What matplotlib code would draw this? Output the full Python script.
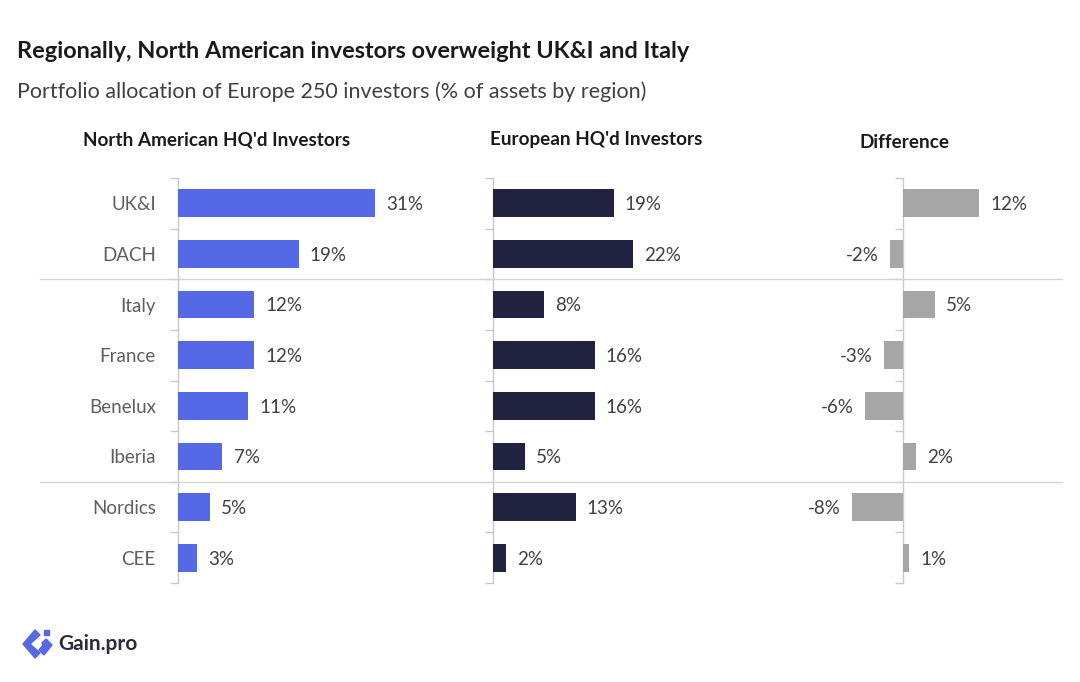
import matplotlib
matplotlib.use("Agg")
import matplotlib.pyplot as plt
from matplotlib.lines import Line2D
from matplotlib.patches import Polygon
import matplotlib.transforms as mtransforms

plt.rcParams['font.family'] = ['Lato', 'DejaVu Sans']

categories = ["UK&I", "DACH", "Italy", "France", "Benelux", "Iberia", "Nordics", "CEE"]
north_american = [31, 19, 12, 12, 11, 7, 5, 3]
european = [19, 22, 8, 16, 16, 5, 13, 2]
difference = [12, -2, 5, -3, -6, 2, -8, 1]
panel_titles = ["North American HQ'd Investors", "European HQ'd Investors", "Difference"]

W, H = 1080, 682
fig = plt.figure(figsize=(W / 100, H / 100), dpi=100)
fig.patch.set_facecolor("white")

PX = 6.35  # pixels per percentage point
top_px, bot_px = 178, 583

def make_axes(zero_px, xmin, xmax):
    left = zero_px + xmin * PX
    width = (xmax - xmin) * PX
    return fig.add_axes([left / W, 1 - bot_px / H, width / W, (bot_px - top_px) / H])

ax1 = make_axes(178, 0, 35)
ax2 = make_axes(493, 0, 35)
ax3 = make_axes(903, -10, 20)

colors = ["#5568E6", "#222241", "#A6A6A6"]
series = [north_american, european, difference]
limits = [(0, 35), (0, 35), (-10, 20)]
n = len(categories)
ypos = list(range(n))

for i, (ax, vals, col, lim) in enumerate(zip([ax1, ax2, ax3], series, colors, limits)):
    ax.barh(ypos, vals, height=0.55, color=col, zorder=3)
    ax.set_xlim(*lim)
    ax.set_ylim(n - 0.5, -0.5)
    for s in ["top", "right", "bottom"]:
        ax.spines[s].set_visible(False)
    ax.spines["left"].set_position(("data", 0))
    ax.spines["left"].set_color("#C8C8C8")
    ax.spines["left"].set_linewidth(1.0)
    ax.set_xticks([])
    ax.set_yticks([y - 0.5 for y in range(n + 1)], minor=True)
    ax.tick_params(axis="y", which="minor", length=6, width=1.0, color="#C8C8C8", direction="out")
    ax.set_yticks(ypos)
    ax.tick_params(axis="y", which="major", length=0, pad=16)
    if i == 0:
        ax.set_yticklabels(categories, fontsize=13.5, color="#5E5E5E")
    else:
        ax.set_yticklabels([])
    ax.patch.set_alpha(0)
    for y, v in zip(ypos, vals):
        if v >= 0:
            ax.annotate(f"{v}%", (v, y), xytext=(8, -1), textcoords="offset points",
                        ha="left", va="center", fontsize=13.5, color="#404040")
        else:
            ax.annotate(f"{v}%", (v, y), xytext=(-8, -1), textcoords="offset points",
                        ha="right", va="center", fontsize=13.5, color="#404040")

# separator lines
trans = mtransforms.blended_transform_factory(fig.transFigure, ax1.transData)
for yb in [1.5, 5.5]:
    fig.add_artist(Line2D([40 / W, 1062 / W], [yb, yb], transform=trans,
                          color="#D4D4D4", linewidth=1.0, zorder=1))

# titles
fig.text(17 / W, 1 - 52 / H, "Regionally, North American investors overweight UK&I and Italy",
         fontsize=16.9, fontweight="bold", color="#1A1A1A", ha="left", va="center")
fig.text(17 / W, 1 - 92 / H, "Portfolio allocation of Europe 250 investors (% of assets by region)",
         fontsize=15.5, color="#404040", ha="left", va="center")

for x, y, t in [(217, 140, panel_titles[0]), (596, 140, panel_titles[1]), (905, 143, panel_titles[2])]:
    fig.text(x / W, 1 - y / H, t, fontsize=13.6, fontweight="bold", color="#1A1A1A",
             ha="center", va="center")

# logo
def px(pts):
    return [(x / W, 1 - y / H) for x, y in pts]

blue = "#5568E6"
fig.add_artist(Polygon(px([(35, 630), (40, 635), (30, 644), (40, 653), (35, 658), (23, 644)]),
                       closed=True, transform=fig.transFigure, color=blue))
fig.add_artist(Polygon(px([(44, 630), (49, 630), (49, 635), (44, 635)]),
                       closed=True, transform=fig.transFigure, color=blue))
fig.add_artist(Polygon(px([(46, 639), (52, 645), (44, 655), (39, 650), (43, 645), (42, 643)]),
                       closed=True, transform=fig.transFigure, color=blue))
fig.text(58 / W, 1 - 644 / H, "Gain.pro", fontsize=15, fontweight="bold", color="#2B2B3A",
         ha="left", va="center")

fig.savefig("out.png", dpi=100, facecolor="white")
